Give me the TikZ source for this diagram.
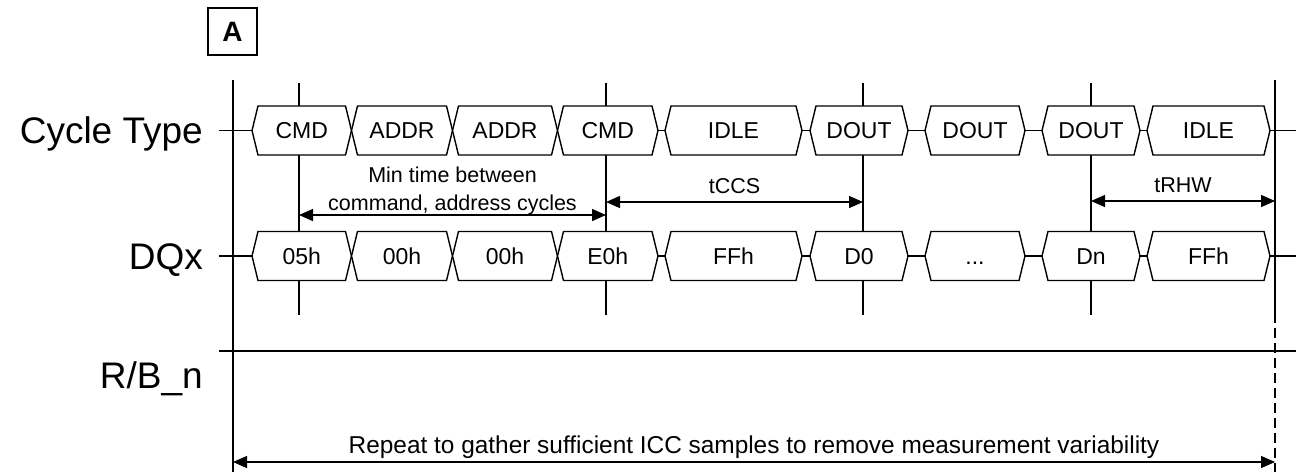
\documentclass[tikz,border=0pt]{standalone}
\usepackage{fontspec}
\setmainfont{Liberation Sans}
\usetikzlibrary{shapes.symbols,arrows.meta}

\tikzset{
  hexcyc/.style={signal, signal to=west and east, signal pointer angle=152.5, draw, fill=white,
    line width=1.4pt, minimum height=49pt, inner sep=0pt, outer sep=0pt,
    font=\fontsize{23}{27}\selectfont, text height=16.5pt, text depth=0pt},
  siglbl/.style={anchor=base east, inner sep=0pt, font=\fontsize{37}{44}\selectfont},
  annot/.style={font=\fontsize{21.5}{28}\selectfont, align=center, inner sep=3pt, text depth=0pt},
  wire/.style={line width=1.4pt},
}

\begin{document}
\begin{tikzpicture}[x=1pt, y=-1pt, >={Triangle[length=14pt, width=12pt]}]
\useasboundingbox (0,0) rectangle (1296,472);

% Titel-Kasten
\node (tag) [draw, line width=1.5pt, minimum width=49pt, minimum height=47pt, inner sep=0pt,
  font=\fontsize{28}{32}\selectfont\bfseries] at (232.5,31.5) {A};

% Signalnamen
\node (lcyc) [siglbl] at (203,143) {Cycle Type};
\node (ldq) [siglbl] at (203,269) {DQx};
\node (lrb) [siglbl] at (203,388) {R/B\_n};

% Begrenzungen und Markierungen
\coordinate (bl-t) at (233,80);   \coordinate (bl-b) at (233,472);
\coordinate (br-t) at (1275,80);  \coordinate (br-m) at (1275,313);  \coordinate (br-b) at (1275,472);
\coordinate (mk1t) at (299,83);   \coordinate (mk1b) at (299,315);
\coordinate (mk2t) at (606,83);   \coordinate (mk2b) at (606,315);
\coordinate (mk3t) at (863,83);   \coordinate (mk3b) at (863,315);
\coordinate (mk4t) at (1091,83);  \coordinate (mk4b) at (1091,315);
\draw [wire, line width=1.7pt] (bl-t) -- (bl-b);
\draw [wire, line width=1.7pt] (br-t) -- (br-m);
\draw [wire, line width=1.7pt, dash pattern=on 10pt off 5pt] (br-m) -- (br-b);
\draw [wire] (mk1t) -- (mk1b);
\draw [wire] (mk2t) -- (mk2b);
\draw [wire] (mk3t) -- (mk3b);
\draw [wire] (mk4t) -- (mk4b);

% Zeile Cycle Type
\node (cy1) [hexcyc, minimum width=99.5pt] at (301.75,130.5) {CMD};
\node (cy2) [hexcyc, minimum width=101pt] at (402,130.5) {ADDR};
\node (cy3) [hexcyc, minimum width=105pt] at (505,130.5) {ADDR};
\node (cy4) [hexcyc, minimum width=100.5pt] at (607.75,130.5) {CMD};
\node (cy5) [hexcyc, minimum width=137pt] at (733.5,130.5) {IDLE};
\node (cy6) [hexcyc, minimum width=98pt] at (859,130.5) {DOUT};
\node (cy7) [hexcyc, minimum width=100pt] at (975,130.5) {DOUT};
\node (cy8) [hexcyc, minimum width=98pt] at (1091,130.5) {DOUT};
\node (cy9) [hexcyc, minimum width=123pt] at (1208.5,130.5) {IDLE};
\coordinate (cy-in) at (219,130.5);  \coordinate (cy-out) at (1296,130.5);
\draw [wire] (cy-in) -- (cy1.west);
\draw [wire] (cy4.east) -- (cy5.west);
\draw [wire] (cy5.east) -- (cy6.west);
\draw [wire] (cy6.east) -- (cy7.west);
\draw [wire] (cy7.east) -- (cy8.west);
\draw [wire] (cy8.east) -- (cy9.west);
\draw [wire] (cy9.east) -- (cy-out);

% Zeile DQx
\node (dq1) [hexcyc, minimum width=99.5pt] at (301.75,256) {05h};
\node (dq2) [hexcyc, minimum width=101pt] at (402,256) {00h};
\node (dq3) [hexcyc, minimum width=105pt] at (505,256) {00h};
\node (dq4) [hexcyc, minimum width=100.5pt] at (607.75,256) {E0h};
\node (dq5) [hexcyc, minimum width=137pt] at (733.5,256) {FFh};
\node (dq6) [hexcyc, minimum width=98pt] at (859,256) {D0};
\node (dq7) [hexcyc, minimum width=100pt] at (975,256) {...};
\node (dq8) [hexcyc, minimum width=98pt] at (1091,256) {Dn};
\node (dq9) [hexcyc, minimum width=123pt] at (1208.5,256) {FFh};
\coordinate (dq-in) at (219,256);  \coordinate (dq-out) at (1296,256);
\draw [wire] (dq-in) -- (dq1.west);
\draw [wire] (dq4.east) -- (dq5.west);
\draw [wire] (dq5.east) -- (dq6.west);
\draw [wire] (dq6.east) -- (dq7.west);
\draw [wire] (dq7.east) -- (dq8.west);
\draw [wire] (dq8.east) -- (dq9.west);
\draw [wire] (dq9.east) -- (dq-out);

% Zeile R/B_n
\coordinate (rb-in) at (219,351);  \coordinate (rb-out) at (1296,351);
\draw [wire] (rb-in) -- (rb-out);

% Zeitangaben
\coordinate (mt-l) at (299,215);   \coordinate (mt-r) at (606,215);
\coordinate (cc-l) at (606,202);   \coordinate (cc-r) at (863,202);
\coordinate (rh-l) at (1091,201);  \coordinate (rh-r) at (1275,201);
\coordinate (rp-l) at (233,462);   \coordinate (rp-r) at (1275,462);
\draw [wire, <->] (mt-l) -- node (mttxt) [annot, above=1pt] {Min time between\\command, address cycles} (mt-r);
\draw [wire, <->] (cc-l) -- node (cctxt) [annot, above=5pt] {tCCS} (cc-r);
\draw [wire, <->] (rh-l) -- node (rhtxt) [annot, above=5pt] {tRHW} (rh-r);
\draw [wire, <->] (rp-l) -- node (rptxt) [annot, above=5pt, font=\fontsize{24.4}{29}\selectfont] {Repeat to gather sufficient ICC samples to remove measurement variability} (rp-r);
\end{tikzpicture}
\end{document}
